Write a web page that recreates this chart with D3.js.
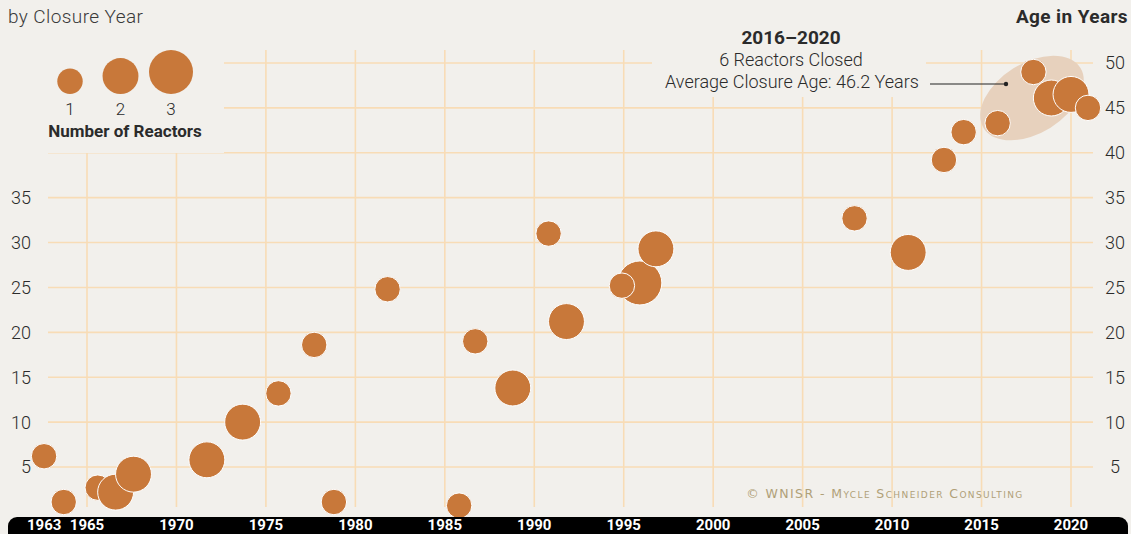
<!DOCTYPE html>
<html>
<head>
<meta charset="utf-8">
<script src="https://cdn.jsdelivr.net/npm/d3@7"></script>
<style>
  body { margin: 0; background: #f2f0ec; }
  svg { display: block; }
</style>
</head>
<body>
<div id="chart"></div>
<script>
// closures (decimal year, age at closure, reactors)
var closureYear = [1962.6, 1963.7, 1965.6, 1966.6, 1967.6, 1971.7, 1973.7, 1975.7, 1977.7, 1978.8,
  1981.8, 1985.8, 1986.7, 1988.8, 1990.8, 1991.8, 1995.9, 1994.9, 1996.8, 2007.9,
  2010.9, 2012.9, 2014.0, 2015.9, 2017.9, 2018.9, 2020.0, 2020.95];
var ageYears = [6.2, 1.1, 2.7, 2.2, 4.2, 5.8, 10.0, 13.2, 18.6, 1.1,
  24.8, 0.7, 19.0, 13.8, 31.0, 21.2, 25.5, 25.2, 29.3, 32.7,
  28.9, 39.2, 42.3, 43.3, 49.0, 46.1, 46.5, 45.0];
var reactorCount = [1, 1, 1, 2, 2, 2, 2, 1, 1, 1,
  1, 1, 1, 2, 1, 2, 3, 1, 2, 1,
  2, 1, 1, 1, 1, 2, 2, 1];

var yearTicks = [1963, 1965, 1970, 1975, 1980, 1985, 1990, 1995, 2000, 2005, 2010, 2015, 2020];
var gridYears = [1965, 1970, 1975, 1980, 1985, 1990, 1995, 2000, 2005, 2010, 2015, 2020];
var leftAgeTicks = [5, 10, 15, 20, 25, 30, 35];
var rightAgeTicks = [5, 10, 15, 20, 25, 30, 35, 40, 45, 50];
var legendCounts = [1, 2, 3];

var W = 1131, H = 534;
var bg = "#f2f0ec", gridColor = "#f8dcb6", bubbleColor = "#c8783a";

var svg = d3.select("#chart").append("svg")
  .attr("width", W)
  .attr("height", H)
  .style("font-family", "Roboto, 'Noto Sans', sans-serif");

svg.append("rect").attr("width", W).attr("height", H).attr("fill", bg);

var x = d3.scaleLinear().domain([1965, 2020]).range([87, 1071]);
var y = d3.scaleLinear().domain([5, 50]).range([467, 63]);
var r = d3.scaleSqrt().domain([0, 3]).range([0, 22]);

var data = closureYear.map(function (d, i) {
  return { year: d, age: ageYears[i], n: reactorCount[i] };
});

// grid
var grid = svg.append("g");
grid.selectAll(".vgrid")
  .data(gridYears)
  .enter().append("line")
  .attr("class", "vgrid")
  .attr("x1", function (d) { return x(d); })
  .attr("x2", function (d) { return x(d); })
  .attr("y1", 50)
  .attr("y2", 507)
  .attr("stroke", gridColor)
  .attr("stroke-width", 1.6);

grid.selectAll(".hgrid")
  .data(rightAgeTicks)
  .enter().append("line")
  .attr("class", "hgrid")
  .attr("x1", 48)
  .attr("x2", 1093)
  .attr("y1", function (d) { return y(d); })
  .attr("y2", function (d) { return y(d); })
  .attr("stroke", gridColor)
  .attr("stroke-width", 1.6);

// knock the grid out behind the legend and the note
svg.append("rect").attr("x", 0).attr("y", 0).attr("width", 224).attr("height", 153).attr("fill", bg);
svg.append("rect").attr("x", 652).attr("y", 0).attr("width", 274).attr("height", 97).attr("fill", bg);

// left / right age labels
svg.append("g").selectAll("text")
  .data(leftAgeTicks)
  .enter().append("text")
  .attr("x", 31)
  .attr("y", function (d) { return y(d); })
  .attr("dy", "0.36em")
  .attr("text-anchor", "end")
  .attr("font-size", 18)
  .attr("font-weight", 300)
  .attr("fill", "#2b2b2b")
  .text(function (d) { return d; });

svg.append("g").selectAll("text")
  .data(rightAgeTicks)
  .enter().append("text")
  .attr("x", 1115)
  .attr("y", function (d) { return y(d); })
  .attr("dy", "0.36em")
  .attr("text-anchor", "middle")
  .attr("font-size", 18)
  .attr("font-weight", 300)
  .attr("fill", "#2b2b2b")
  .text(function (d) { return d; });

// 2016-2020 highlight
svg.append("ellipse")
  .attr("cx", 1032)
  .attr("cy", 98)
  .attr("rx", 57)
  .attr("ry", 35)
  .attr("transform", "rotate(-32,1032,98)")
  .attr("fill", "#e7d1bd");

// bubbles
svg.append("g").selectAll("circle")
  .data(data)
  .enter().append("circle")
  .attr("cx", function (d) { return x(d.year); })
  .attr("cy", function (d) { return y(d.age); })
  .attr("r", function (d) { return r(d.n); })
  .attr("fill", bubbleColor)
  .attr("stroke", "#fff")
  .attr("stroke-width", 1);

// titles
svg.append("text")
  .attr("x", 8).attr("y", 23)
  .attr("font-size", 19).attr("font-weight", 300)
  .attr("letter-spacing", 0.4)
  .attr("fill", "#3a3a3a")
  .text("by Closure Year");

svg.append("text")
  .attr("x", 1128).attr("y", 23)
  .attr("text-anchor", "end")
  .attr("font-size", 19).attr("font-weight", 700)
  .attr("letter-spacing", 0.4)
  .attr("fill", "#2b2b2b")
  .text("Age in Years");

// size legend
var legendX = d3.scalePoint().domain(legendCounts).range([70, 171]);
var legend = svg.append("g");
legend.selectAll("circle")
  .data(legendCounts)
  .enter().append("circle")
  .attr("cx", function (d) { return legendX(d); })
  .attr("cy", function (d) { return 94 - r(d); })
  .attr("r", function (d) { return r(d); })
  .attr("fill", bubbleColor);
legend.selectAll("text")
  .data(legendCounts)
  .enter().append("text")
  .attr("x", function (d) { return legendX(d); })
  .attr("y", 115)
  .attr("text-anchor", "middle")
  .attr("font-size", 17).attr("font-weight", 300)
  .attr("fill", "#2b2b2b")
  .text(function (d) { return d; });
legend.append("text")
  .attr("x", 125).attr("y", 137)
  .attr("text-anchor", "middle")
  .attr("font-size", 17).attr("font-weight", 700)
  .attr("fill", "#2b2b2b")
  .text("Number of Reactors");

// note
var note = svg.append("g").attr("text-anchor", "middle").attr("fill", "#2b2b2b");
note.append("text").attr("x", 791).attr("y", 44)
  .attr("font-size", 19).attr("font-weight", 700)
  .text("2016\u20132020");
note.append("text").attr("x", 791).attr("y", 66)
  .attr("font-size", 18).attr("font-weight", 300)
  .text("6 Reactors Closed");
note.append("text").attr("x", 792).attr("y", 88)
  .attr("font-size", 18).attr("font-weight", 300)
  .text("Average Closure Age: 46.2 Years");
svg.append("line")
  .attr("x1", 930).attr("x2", 1006)
  .attr("y1", 84).attr("y2", 84)
  .attr("stroke", "#222").attr("stroke-width", 1);
svg.append("circle")
  .attr("cx", 1006).attr("cy", 84).attr("r", 2.2)
  .attr("fill", "#222");

// watermark
svg.append("text")
  .attr("x", 885).attr("y", 498)
  .attr("text-anchor", "middle")
  .attr("font-family", "'DejaVu Sans', sans-serif")
  .attr("font-size", 12.5)
  .attr("letter-spacing", 1.4)
  .style("font-variant", "small-caps")
  .attr("fill", "#b0a078")
  .text("\u00a9 WNISR - Mycle Schneider Consulting");

// year axis band
svg.append("rect")
  .attr("x", 8).attr("y", 517)
  .attr("width", 1120).attr("height", 30)
  .attr("rx", 9)
  .attr("fill", "#000");

svg.append("g").selectAll("text")
  .data(yearTicks)
  .enter().append("text")
  .attr("x", function (d) { return x(d); })
  .attr("dx", function (d) { return d === 1963 ? -7 : 0; })
  .attr("y", 530)
  .attr("text-anchor", "middle")
  .attr("font-size", 15).attr("font-weight", 700)
  .attr("fill", "#fff")
  .text(function (d) { return d; });
</script>
</body>
</html>
